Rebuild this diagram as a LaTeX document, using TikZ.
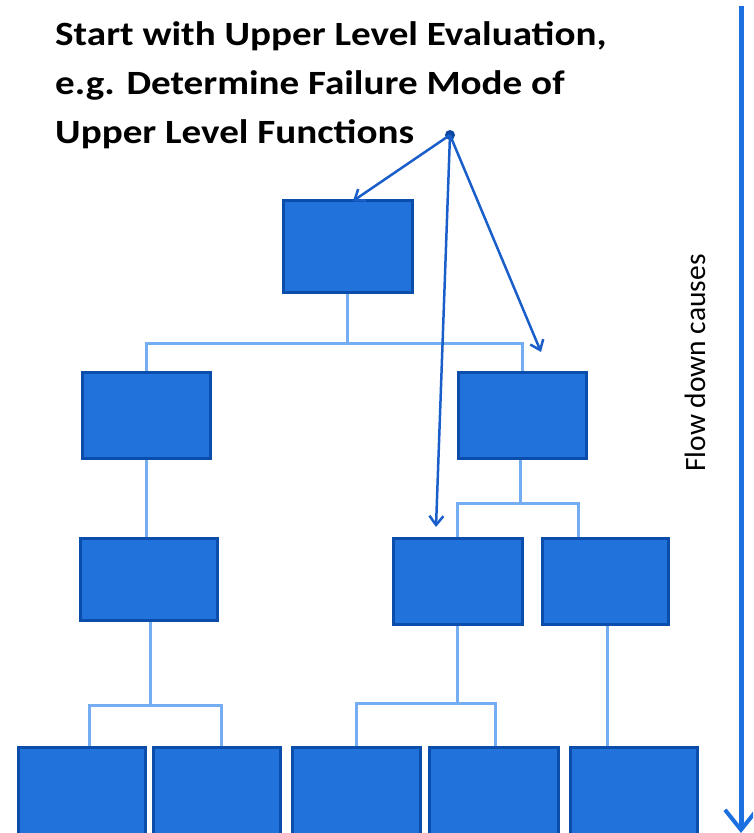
\documentclass[tikz,border=0pt]{standalone}
\usepackage{fontspec}
\setmainfont{Carlito}
\usetikzlibrary{arrows.meta,calc}
\definecolor{boxfill}{HTML}{2272DB}
\definecolor{boxline}{HTML}{0B4DAA}
\definecolor{connline}{HTML}{74ADF2}
\definecolor{arrline}{HTML}{1A5FC9}
\definecolor{bigarr}{HTML}{1C6FE0}
\definecolor{dotc}{HTML}{0D47A1}
\begin{document}
\begin{tikzpicture}[x=1pt,y=-1pt,
  blk/.style={draw=boxline,fill=boxfill,line width=3pt,inner sep=0pt},
  conn/.style={draw=connline,line width=3pt},
  arr/.style={draw=arrline,line width=2.5pt,-{Straight Barb[length=9pt,width=14pt]}},
  bigarrow/.style={draw=bigarr,line width=5pt,-{Straight Barb[length=20pt,width=32pt,line width=4pt]}}]
\useasboundingbox (0,0) rectangle (753,833);
\clip (0,0) rectangle (753,833);
% box positions (named)
\path
  (347.5,246) node[blk,minimum width=129pt,minimum height=92pt] (b1) {}
  (146,415)   node[blk,minimum width=128pt,minimum height=86pt] (b2l) {}
  (522,415)   node[blk,minimum width=128pt,minimum height=86pt] (b2r) {}
  (148.5,579) node[blk,minimum width=137pt,minimum height=82pt] (b3l) {}
  (457.5,581) node[blk,minimum width=129pt,minimum height=86pt] (b3m) {}
  (605,581)   node[blk,minimum width=126pt,minimum height=86pt] (b3r) {}
  (81.5,798.5)  node[blk,minimum width=127pt,minimum height=103pt] (b4a) {}
  (216.5,798.5) node[blk,minimum width=127pt,minimum height=103pt] (b4b) {}
  (356,798.5)   node[blk,minimum width=128pt,minimum height=103pt] (b4c) {}
  (493.5,798.5) node[blk,minimum width=129pt,minimum height=103pt] (b4d) {}
  (633.5,798.5) node[blk,minimum width=127pt,minimum height=103pt] (b4e) {};
% connectors
\draw[conn] (b1.south) -- ++(0,50) coordinate (j1) -| (b2l.north);
\draw[conn] (j1) -| (b2r.north);
\draw[conn] (b2l.south) -- (b2l.south |- b3l.north);
\draw[conn] ([xshift=-2pt]b2r.south) -- ++(0,44) coordinate (j2) -| (b3m.north);
\draw[conn] (j2) -| ([xshift=-27pt]b3r.north);
\draw[conn] ([xshift=1.5pt]b3l.south) -- ++(0,84) coordinate (j3) -| ([xshift=7.5pt]b4a.north);
\draw[conn] (j3) -| ([xshift=4.5pt]b4b.north);
\draw[conn] (b3m.south) -- ++(0,78) coordinate (j4) -| (b4c.north);
\draw[conn] (j4) -| ([xshift=1.5pt]b4d.north);
\draw[conn] ([xshift=2pt]b3r.south) -- ([xshift=2pt]b3r.south |- b4e.north);
% boxes drawn again over the connector ends
\path
  (347.5,246) node[blk,minimum width=129pt,minimum height=92pt] {}
  (146,415)   node[blk,minimum width=128pt,minimum height=86pt] {}
  (522,415)   node[blk,minimum width=128pt,minimum height=86pt] {}
  (148.5,579) node[blk,minimum width=137pt,minimum height=82pt] {}
  (457.5,581) node[blk,minimum width=129pt,minimum height=86pt] {}
  (605,581)   node[blk,minimum width=126pt,minimum height=86pt] {}
  (81.5,798.5)  node[blk,minimum width=127pt,minimum height=103pt] {}
  (216.5,798.5) node[blk,minimum width=127pt,minimum height=103pt] {}
  (356,798.5)   node[blk,minimum width=128pt,minimum height=103pt] {}
  (493.5,798.5) node[blk,minimum width=129pt,minimum height=103pt] {}
  (633.5,798.5) node[blk,minimum width=127pt,minimum height=103pt] {};
% title
\node[anchor=north west,inner sep=0pt,xscale=1.15,align=left,font=\fontsize{34}{49}\selectfont\bfseries] (title) at (55,21)
  {Start with Upper Level Evaluation,\\e.g. Determine Failure Mode of\\Upper Level Functions};
% pointer arrows
\node[circle,fill=dotc,inner sep=0pt,minimum size=10pt] (dot) at (450,135) {};
\coordinate (t1) at (353,201);
\coordinate (t2) at (436,527);
\coordinate (t3) at (541,352);
\draw[arr] (dot.center) -- (t1);
\draw[arr] (dot.center) -- (t2);
\draw[arr] (dot.center) -- (t3);
% flow arrow
\node[rotate=90,inner sep=0pt,font=\fontsize{29.5}{29.5}\selectfont] (flow) at (695,363) {Flow down causes};
\coordinate (ftop) at (741,6);
\coordinate (fbot) at (741,833);
\draw[bigarrow] (ftop) -- (fbot);
\end{tikzpicture}
\end{document}
